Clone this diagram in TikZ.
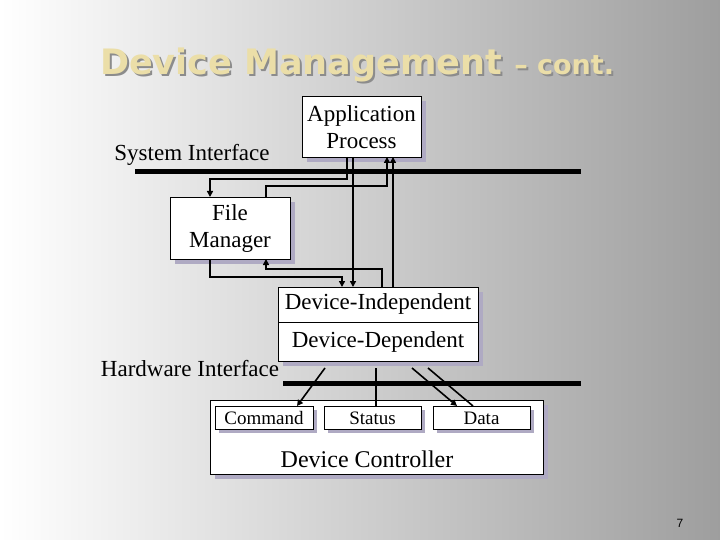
\documentclass[tikz,border=0pt]{standalone}
\usepackage{fontspec}
\setmainfont{Liberation Serif}
\newfontfamily\titlefont{DejaVu Sans}
\newfontfamily\numfont{Liberation Sans}
\usetikzlibrary{arrows.meta}
\definecolor{shadowc}{RGB}{175,170,195}
\definecolor{titlec}{RGB}{235,222,168}
\tikzset{
  box/.style={draw=black,fill=white,line width=0.8pt,inner sep=0pt},
  shadow/.style={fill=shadowc},
  conn/.style={line width=1.6pt},
  arr/.style={conn,-{Triangle[length=6pt,width=6pt]}},
  bar/.style={line width=5pt},
  lbl/.style={font=\fontsize{23}{27}\selectfont,align=center,inner sep=0pt}
}
\begin{document}
\begin{tikzpicture}[x=1pt,y=-1pt]
\useasboundingbox (0,0) rectangle (720,540);
\shade[left color=white,right color=black!38] (0,0) rectangle (720,540);
% title
\node[anchor=base west,inner sep=0pt,text=black!45] (titleshadow) at (102,77) {\titlefont\bfseries\fontsize{35}{40}\selectfont Device Management \fontsize{27}{30}\selectfont – cont.};
\node[anchor=base west,inner sep=0pt,text=titlec] (title) at (100,75) {\titlefont\bfseries\fontsize{35}{40}\selectfont Device Management \fontsize{27}{30}\selectfont – cont.};
% bars
\draw[bar] (135,172) coordinate (sA) -- (581,172) coordinate (sB);
\draw[bar] (283,383) coordinate (hA) -- (581,383) coordinate (hB);
\node[lbl,anchor=base] (si) at (192,161) {System Interface};
\node[lbl,anchor=base] (hi) at (190,376) {Hardware Interface};
% shadows
\fill[shadow] (307,101) rectangle (426,162);
\fill[shadow] (175,202) rectangle (295,264);
\fill[shadow] (283,292) rectangle (483,366);
\fill[shadow] (215,405) rectangle (548,479);
% boxes
\draw[box] (302,96) rectangle (421,157);
\node[lbl] (app) at (361.5,127) {Application\\Process};
\draw[box] (170,197) rectangle (290,259);
\node[lbl] (fm) at (230,229) {File\\Manager};
\draw[box] (278,287) rectangle (478,361);
\draw[line width=0.8pt] (278,322) -- (478,322);
\node[lbl] (di) at (378,304) {Device-Independent};
\node[lbl] (dd) at (378,342) {Device-Dependent};
\draw[box] (210,400) rectangle (543,474);
\node[lbl,font=\fontsize{24}{28}\selectfont] (dc) at (367,459) {Device Controller};
\foreach \a/\b/\t/\n in {215/313/Command/cmd,324/421/Status/st,433/530/Data/dat}{
  \fill[shadow] (\a+4,410) rectangle (\b+4,433);
  \draw[box] (\a,406) rectangle (\b,429);
  \node[lbl,font=\fontsize{19}{22}\selectfont] (\n) at ({(\a+\b)/2},418) {\t};
}
% connectors top
\draw[arr] (347,157) -- (347,179) -- (210,179) -- (210,197);
\draw[arr] (353,157) -- (353,287);
\draw[arr] (266,197) -- (266,186) -- (387,186) -- (387,157);
\draw[arr] (393,287) -- (393,157);
\draw[arr] (210,259) -- (210,277) -- (342,277) -- (342,287);
\draw[arr] (382,287) -- (382,269) -- (266,269) -- (266,259);
% connectors bottom
\draw[arr] (325,368) -- (297,406);
\draw[conn] (376,368) -- (376,406);
\draw[arr] (412,368) -- (457,406);
\draw[conn] (428,368) -- (473,406);
\node[font=\numfont\fontsize{12}{14}\selectfont] (pg) at (680,523) {7};
\end{tikzpicture}
\end{document}
